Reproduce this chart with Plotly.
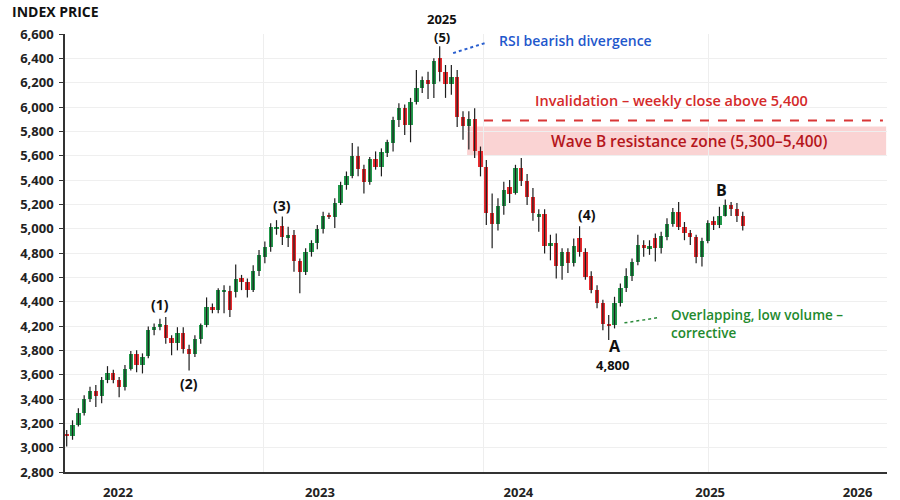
import plotly.graph_objects as go

# ---------------- data ----------------
week = list(range(117))

open_ = [3315, 3295, 3390, 3485, 3600, 3665, 3625, 3755, 3815, 3760,
         3700, 3850, 3970, 3880, 3950, 4165, 4195, 4210, 4100, 4060,
         4140, 4015, 3970, 4090, 4205, 4360, 4335, 4480, 4490, 4480,
         4595, 4565, 4495, 4650, 4770, 4850, 4995, 5020, 4930, 4945,
         4735, 4645, 4810, 4880, 4995, 5115, 5100, 5210, 5355, 5435,
         5600, 5490, 5380, 5570, 5505, 5625, 5705, 5895, 5990, 5850,
         6045, 6155, 6220, 6185, 6400, 6290, 6185, 6250, 5920, 5840,
         5900, 5635, 5510, 5130, 5040, 5185, 5340, 5290, 5495, 5395,
         5260, 5100, 5120, 4860, 4880, 4690, 4810, 4715, 4920, 4810,
         4610, 4500, 4385, 4220, 4205, 4390, 4515, 4610, 4725, 4865,
         4840, 4925, 4840, 4935, 5040, 5140, 5015, 4965, 4930, 4770,
         4900, 5060, 5030, 5105, 5195, 5160, 5105]
high = [3345, 3425, 3525, 3630, 3700, 3715, 3780, 3870, 3840, 3780,
        3880, 3995, 4000, 3975, 4195, 4220, 4260, 4275, 4125, 4190,
        4190, 4045, 4125, 4220, 4435, 4385, 4510, 4535, 4530, 4705,
        4620, 4590, 4700, 4825, 4895, 5045, 5070, 5100, 5015, 4990,
        4755, 4840, 4905, 5030, 5140, 5130, 5250, 5385, 5470, 5705,
        5675, 5525, 5590, 5635, 5660, 5730, 5920, 6030, 6020, 6075,
        6305, 6250, 6290, 6400, 6500, 6345, 6345, 6305, 5965, 5965,
        5990, 5675, 5565, 5290, 5250, 5385, 5400, 5525, 5580, 5450,
        5335, 5160, 5160, 4950, 4960, 4840, 4840, 4920, 5020, 4840,
        4650, 4535, 4415, 4290, 4440, 4550, 4675, 4755, 4950, 4905,
        4905, 4960, 4975, 5085, 5170, 5220, 5055, 4990, 4950, 4925,
        5070, 5100, 5180, 5240, 5220, 5210, 5140]
low = [3210, 3265, 3375, 3465, 3575, 3535, 3565, 3730, 3730, 3615,
       3670, 3835, 3820, 3810, 3935, 4125, 4165, 4055, 3960, 4000,
       3975, 3835, 3945, 4055, 4190, 4305, 4305, 4305, 4275, 4435,
       4495, 4435, 4480, 4610, 4715, 4810, 4950, 4865, 4850, 4645,
       4470, 4620, 4770, 4830, 4960, 5080, 5005, 5195, 5320, 5415,
       5430, 5290, 5360, 5485, 5430, 5590, 5635, 5835, 5770, 5710,
       6020, 6115, 6065, 6075, 6210, 6075, 6100, 5835, 5730, 5650,
       5580, 5430, 5030, 4840, 4985, 5115, 5210, 5280, 5350, 5195,
       5065, 4975, 4795, 4740, 4590, 4580, 4635, 4690, 4770, 4580,
       4470, 4345, 4165, 4085, 4180, 4360, 4480, 4570, 4700, 4770,
       4785, 4730, 4795, 4905, 5015, 4990, 4905, 4865, 4715, 4690,
       4880, 4990, 5005, 5100, 5105, 5055, 4985]
close = [3295, 3390, 3485, 3600, 3665, 3625, 3755, 3815, 3760, 3700,
         3850, 3970, 3880, 3945, 4165, 4195, 4215, 4100, 4060, 4140,
         4015, 3970, 4090, 4205, 4355, 4335, 4495, 4495, 4335, 4590,
         4565, 4495, 4650, 4785, 4850, 5015, 5015, 4935, 4945, 4735,
         4645, 4810, 4880, 4995, 5105, 5095, 5210, 5360, 5435, 5600,
         5490, 5380, 5570, 5505, 5630, 5710, 5895, 5990, 5855, 6045,
         6155, 6220, 6185, 6380, 6290, 6185, 6250, 5920, 5840, 5900,
         5635, 5510, 5130, 5040, 5185, 5315, 5285, 5495, 5395, 5260,
         5130, 5120, 4860, 4880, 4690, 4810, 4715, 4860, 4810, 4605,
         4495, 4385, 4215, 4200, 4390, 4515, 4610, 4730, 4865, 4840,
         4855, 4840, 4940, 5040, 5140, 5015, 4965, 4930, 4770, 4900,
         5045, 5030, 5105, 5195, 5160, 5105, 5020]

year_labels = ["2022", "2023", "2024", "2025", "2026"]
price_tick_labels = ["2,800", "3,000", "3,200", "3,400", "3,600", "3,800",
                     "4,200", "4,400", "4,600", "4,800", "5,000", "5,200",
                     "5,400", "5,600", "5,800", "6,000", "6,200", "6,400",
                     "6,600"]

# ---------------- styling ----------------
GREEN = "#22994b"
RED = "#ea2a2e"
FONT = "Open Sans"

body_base = [min(o, c) for o, c in zip(open_, close)]
body_len = [abs(c - o) for o, c in zip(open_, close)]
body_col = [GREEN if c >= o else RED for o, c in zip(open_, close)]

wx, wy = [], []
for w, h, l in zip(week, high, low):
    wx += [w, w, None]
    wy += [l, h, None]

fig = go.Figure()
fig.add_trace(go.Scatter(x=wx, y=wy, mode="lines",
                         line=dict(color="#1e1e1e", width=1.2),
                         hoverinfo="skip", showlegend=False))
fig.add_trace(go.Bar(x=week, y=body_len, base=body_base, width=0.74,
                     marker=dict(color=body_col, line=dict(width=0)),
                     showlegend=False))

# resistance zone + invalidation line
fig.add_shape(type="rect", x0=68.7, x1=140.6, y0=5600, y1=5840,
              fillcolor="rgba(240,110,110,0.30)", line=dict(width=0),
              layer="below")
fig.add_shape(type="line", x0=71.6, x1=140.05, y0=5889, y1=5889,
              line=dict(color="#d93636", width=2, dash="dash"))
# dotted leaders
fig.add_shape(type="line", x0=66.3, y0=6443, x1=71.8, y1=6526,
              line=dict(color="#2a5fcf", width=2, dash="dot"))
fig.add_shape(type="line", x0=95.7, y0=4226, x1=101.3, y1=4267,
              line=dict(color="#2a8a3a", width=1.5, dash="dot"))

def ann(x, y, text, size=14, color="#111", weight=700, xanchor="center",
        yref="y"):
    fig.add_annotation(x=x, y=y, text=text, showarrow=False, yref=yref,
                       xanchor=xanchor, yanchor="middle",
                       font=dict(family=FONT, size=size, color=color,
                                 weight=weight))

ann(64.45, 1.0336, "2025", 13, yref="paper")
ann(64.45, 6575, "(5)", 13)
ann(73.84, 6547, "RSI bearish divergence", 14, "#1f58cc", 600, "left")
ann(103.8, 6051, "Invalidation – weekly close above 5,400", 14.5, "#d42a2a", 600)
ann(106.8, 5721, "Wave B resistance zone (5,300–5,400)", 15.5, "#b5161c", 600)
ann(16.0, 4378, "(1)", 14)
ann(21.04, 3727, "(2)", 14)
ann(36.9, 5187, "(3)", 14)
ann(89.2, 5113, "(4)", 14)
ann(94.1, 4034, "A", 16)
ann(93.6, 3878, "4,800", 13)
ann(112.4, 5318, "B", 16)
ann(103.4, 4290, "Overlapping, low volume –", 13.5, "#1f8a2e", 600, "left")
ann(103.4, 4146, "corrective", 13.5, "#1f8a2e", 600, "left")

fig.add_annotation(xref="paper", yref="paper", x=-0.067, y=1.0776,
                   text="INDEX PRICE", showarrow=False, xanchor="left",
                   yanchor="top",
                   font=dict(family=FONT, size=14, color="#111", weight=700))

fig.update_layout(
    width=900, height=500,
    margin=dict(l=65, r=13, t=34, b=28, autoexpand=False),
    paper_bgcolor="white", plot_bgcolor="white",
    bargap=0, showlegend=False,
    xaxis=dict(range=[-0.29, 140.75], tickmode="array", automargin=False,
               tickvals=[8.8, 43.46, 77.5, 110.4, 135.7],
               ticktext=year_labels, showgrid=False, zeroline=False,
               showline=True, linecolor="#333", linewidth=1.5,
               ticks="", ticklabelstandoff=8,
               tickfont=dict(family=FONT, size=13, color="#222", weight=700),
               minor=dict(tickmode="array", tickvals=[33.7, 71.6, 110.2],
                          showgrid=True, gridcolor="#eeeeee", gridwidth=1,
                          ticks="")),
    yaxis=dict(range=[3000, 6600], tickmode="array", automargin=False,
               tickvals=list(range(3000, 6601, 200)),
               ticktext=price_tick_labels, showgrid=True,
               gridcolor="#efefef", gridwidth=1, zeroline=False,
               showline=True, linecolor="#333", linewidth=1.5,
               ticks="outside", ticklen=4, tickcolor="#333",
               ticklabelstandoff=3,
               tickfont=dict(family=FONT, size=13, color="#222", weight=700)),
)

fig.write_html("out.html")
